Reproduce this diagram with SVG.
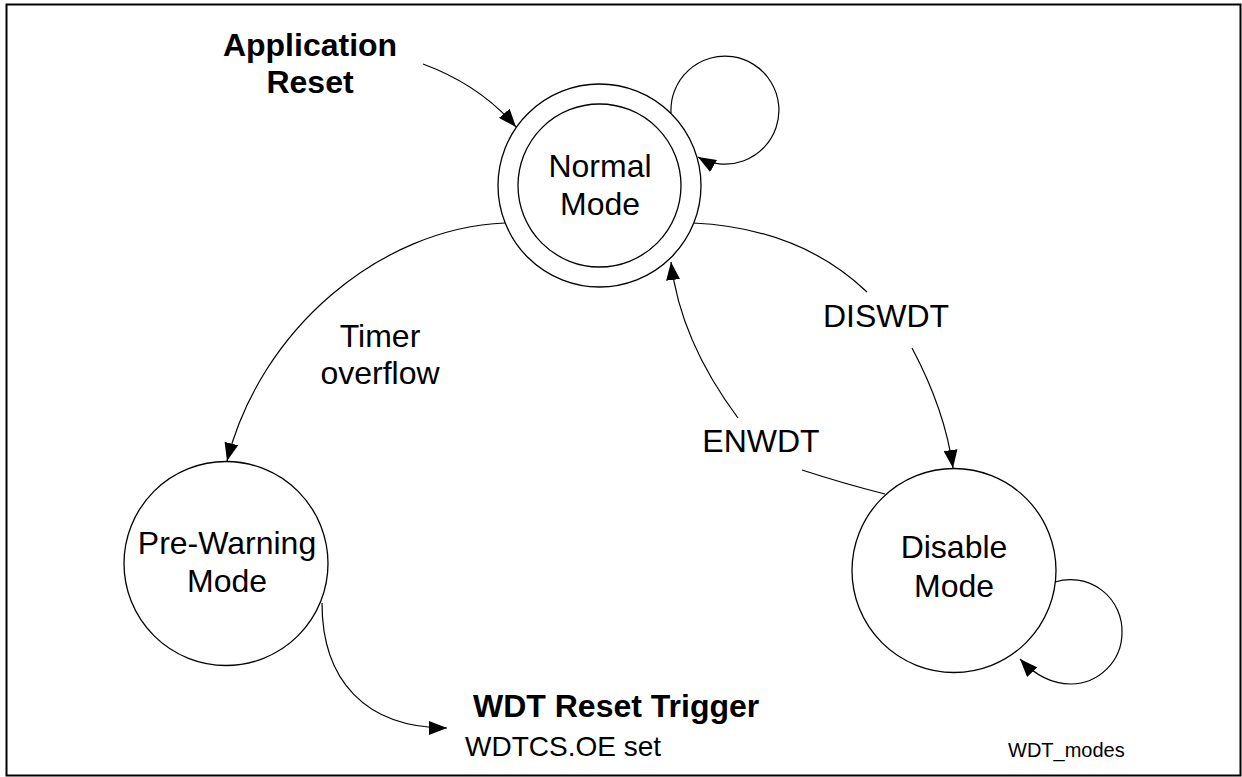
<svg xmlns="http://www.w3.org/2000/svg" width="1242" height="777" viewBox="0 0 1242 777">
<style>
.st{fill:#fff;stroke:#000;stroke-width:1.3}
.c{fill:none;stroke:#000;stroke-width:1.2}
.t{font-family:"Liberation Sans",Arial,sans-serif;font-size:32px;fill:#000;text-anchor:middle}
.b{font-family:"Liberation Sans",Arial,sans-serif;font-size:32px;font-weight:bold;fill:#000;text-anchor:middle}
</style>
<defs>
<marker id="ah" markerUnits="userSpaceOnUse" markerWidth="18" markerHeight="14" viewBox="0 0 18 14" refX="18" refY="7" orient="auto">
<path d="M0,0 L18,7 L0,14 z" fill="#000"/>
</marker>
</defs>
<rect x="6.5" y="4.5" width="1234" height="771" fill="#fff" stroke="#000" stroke-width="2"/>
<g id="connectors">
<path class="c" d="M423,64 Q480,85 516,127" marker-end="url(#ah)"/>
<path class="c" d="M671,113 A54,54 0 1 1 698,157" marker-end="url(#ah)"/>
<path class="c" d="M505,223 C380,228 260,330 227,461" marker-end="url(#ah)"/>
<path class="c" d="M693,223 Q800,228 867,292"/>
<path class="c" d="M912,348 Q945,410 953,468" marker-end="url(#ah)"/>
<path class="c" d="M885,494 Q845,484 802,470"/>
<path class="c" d="M738,418 Q680,340 671,262" marker-end="url(#ah)"/>
<path class="c" d="M1055,582 A51.5,51.5 0 0 1 1122,633 A51.5,51.5 0 0 1 1071,684 C1050,684 1033,673 1020,659" marker-end="url(#ah)"/>
<path class="c" d="M322,603 C322,680 365,728 447,728" marker-end="url(#ah)"/>
<text class="t" x="380" y="347">Timer</text>
<text class="t" x="380" y="384">overflow</text>
<text class="t" x="886" y="327">DISWDT</text>
<text class="t" x="761" y="452">ENWDT</text>
</g>
<g id="application-reset">
<text class="b" x="310" y="56">Application</text>
<text class="b" x="310" y="93">Reset</text>
</g>
<g id="normal-mode">
<circle class="st" cx="599.5" cy="185.5" r="101.5"/>
<circle class="st" cx="599.5" cy="185.5" r="81.5"/>
<text class="t" x="600" y="177">Normal</text>
<text class="t" x="600" y="215">Mode</text>
</g>
<g id="pre-warning-mode">
<circle class="st" cx="226" cy="563.5" r="102"/>
<text class="t" x="227" y="554">Pre-Warning</text>
<text class="t" x="227" y="592">Mode</text>
</g>
<g id="disable-mode">
<circle class="st" cx="954" cy="570.5" r="102"/>
<text class="t" x="954" y="558">Disable</text>
<text class="t" x="954" y="597">Mode</text>
</g>
<g id="wdt-reset-trigger">
<text class="b" x="473" y="717" style="text-anchor:start">WDT Reset Trigger</text>
<text class="t" x="465" y="756" style="text-anchor:start;font-size:28px">WDTCS.OE set</text>
</g>
<text class="t" x="1008" y="757" style="text-anchor:start;font-size:20px">WDT_modes</text>
</svg>
